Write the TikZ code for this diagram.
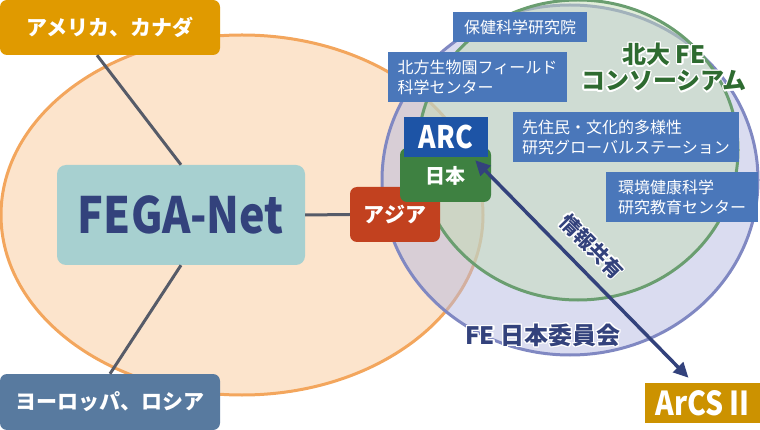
\documentclass[tikz,border=0pt]{standalone}
\usepackage{fontspec}
\setmainfont{Noto Sans CJK JP}
\newfontfamily\narrowfont{Noto Sans CJK JP}[FakeStretch=0.86]
\usepackage{xcolor}
\usepackage{contour}
\contourlength{1.3pt}
\contournumber{16}
\usetikzlibrary{arrows.meta,calc}

\definecolor{netorange}{HTML}{FCE4CC}
\definecolor{netedge}{HTML}{F3A65D}
\definecolor{fecircle}{HTML}{B5B9E1}
\definecolor{feedge}{HTML}{8088C2}
\definecolor{hucircle}{HTML}{C4DCB6}
\definecolor{huedge}{HTML}{6A9E70}
\definecolor{hugreen}{HTML}{2E6B30}
\definecolor{navy}{HTML}{33427C}
\definecolor{linkgray}{HTML}{565B68}
\definecolor{amgold}{HTML}{E09A00}
\definecolor{eublue}{HTML}{587A9F}
\definecolor{fegateal}{HTML}{A7D0D0}
\definecolor{asiared}{HTML}{C2411F}
\definecolor{jpgreen}{HTML}{3E8141}
\definecolor{arcblue}{HTML}{1D54A6}
\definecolor{instblue}{HTML}{4A77BA}
\definecolor{arcsgold}{HTML}{CC9200}

\begin{document}
\begin{tikzpicture}[x=1pt,y=-1pt,
	region/.style={rounded corners=7pt, inner sep=0pt, text=white,
		font=\fontsize{21}{25}\selectfont\bfseries},
	inst/.style={fill=instblue, inner sep=0pt, text=white, align=left,
		font=\fontsize{16}{20}\selectfont},
	link/.style={draw=linkgray, line width=3pt},
	share/.style={draw=navy, line width=3.5pt,
		{Triangle[length=15pt,width=14pt]}-{Triangle[length=15pt,width=14pt]}}]
	\useasboundingbox (0,0) rectangle (760,430);

	% circles
	\draw[fill=netorange, draw=netedge, line width=3pt] (242,215) ellipse [x radius=241, y radius=180];
	\draw[fill=fecircle, fill opacity=0.5, draw=feedge, line width=3pt] (570,180) ellipse [x radius=188, y radius=175];
	\draw[fill=hucircle, fill opacity=0.5, draw=huedge, line width=3pt] (578,150) ellipse [x radius=160, y radius=150];

	\node[align=center, text=hugreen, font=\fontsize{24}{26}\selectfont\bfseries] (hutitle) at (664,68)
		{\contour{white}{北大 FE}\\\contour{white}{コンソーシアム}};
	\node[text=navy, font=\fontsize{24}{28}\selectfont\bfseries] (fetitle) at (543,336)
		{\contour{white}{FE 日本委員会}};

	% boxes
	\node[region, fill=amgold, minimum width=220, minimum height=55] (america) at (110,27.5) {アメリカ、カナダ};
	\node[region, fill=eublue, minimum width=220, minimum height=56] (europe) at (110,402) {ヨーロッパ、ロシア};
	\node[region, fill=fegateal, text=navy, rounded corners=9pt, minimum width=248, minimum height=100,
		font=\fontsize{50}{54}\narrowfont\bfseries] (fega) at (181,215) {FEGA-Net};
	\node[region, fill=asiared, minimum width=90, minimum height=55] (asia) at (395,214.5) {アジア};
	\node[region, fill=jpgreen, minimum width=91, minimum height=54, text depth=-14pt,
		font=\fontsize{20}{24}\selectfont\bfseries] (japan) at (445.5,175) {日本};
	\node[fill=arcblue, inner sep=0pt, text=white, minimum width=84, minimum height=40,
		font=\fontsize{31}{34}\narrowfont\bfseries] (arc) at (446,137) {ARC};

	\node[inst, minimum width=134, minimum height=30] (hoken) at (520,27) {保健科学研究院};
	\node[inst, minimum width=179, minimum height=50] (hoppo) at (477.5,77) {北方生物園フィールド\\科学センター};
	\node[inst, minimum width=226, minimum height=50] (senju) at (626,137) {先住民・文化的多様性\\研究グローバルステーション};
	\node[inst, minimum width=152, minimum height=50] (kankyo) at (682,197) {環境健康科学\\研究教育センター};

	\node[fill=arcsgold, inner sep=0pt, text=white, minimum width=115, minimum height=40,
		font=\fontsize{33}{36}\narrowfont\bfseries] (arcs) at (702.5,403) {ArCS II};

	% connectors
	\draw[link] ($(america.south)+(-13,0)$) -- (fega.north);
	\draw[link] (fega.south) -- (europe.north);
	\draw[link] (fega.east) -- (asia.west);
	\draw[share] ($(arc.south east)+(-13,3)$) -- ($(arcs.north)+(-14,-5)$)
		node[pos=0.47, sloped, above=7pt, text=navy, font=\fontsize{20}{22}\selectfont\bfseries]
		{\contour{white}{情報共有}};
\end{tikzpicture}
\end{document}
